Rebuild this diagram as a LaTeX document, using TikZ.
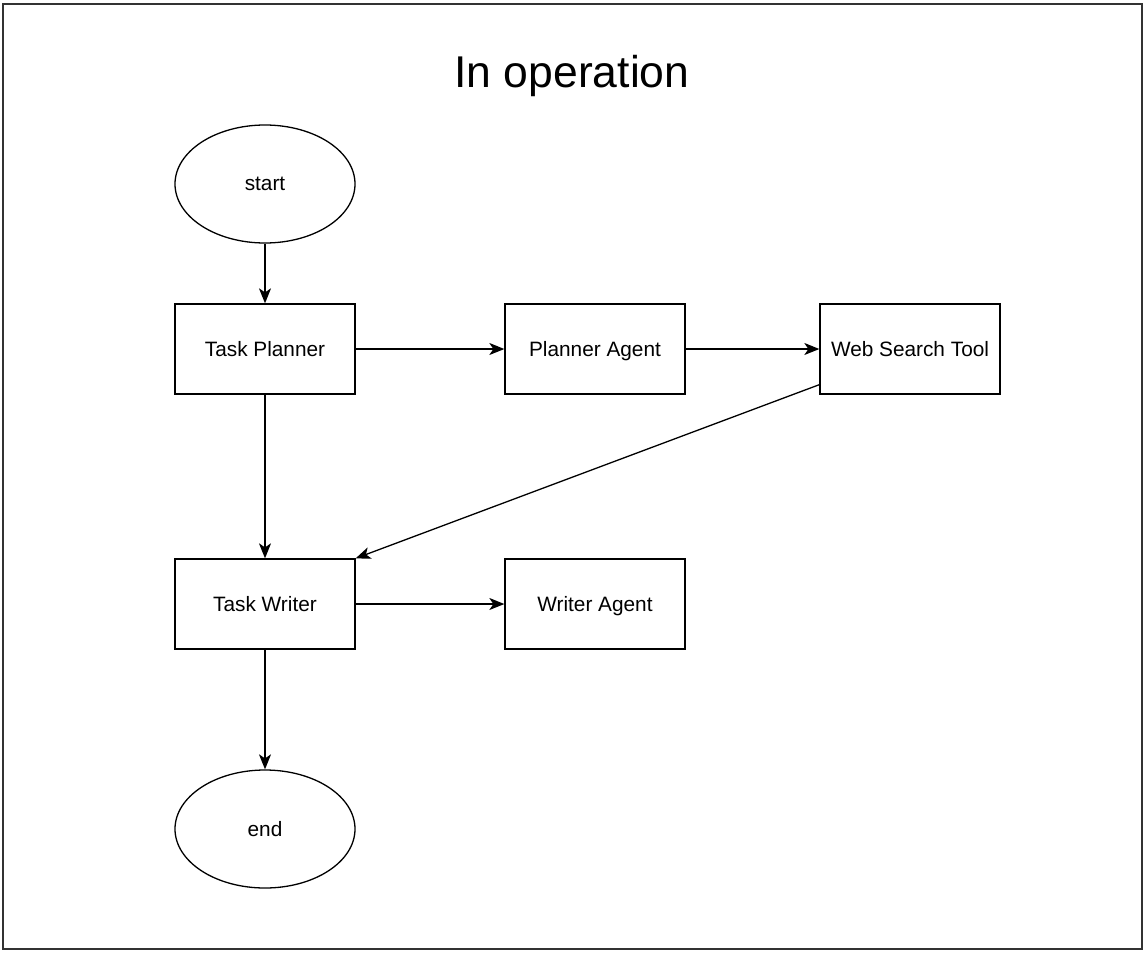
\documentclass[tikz,border=0pt]{standalone}
\usepackage{fontspec}
\setmainfont{Liberation Sans}
\usepackage{tikz}
\usetikzlibrary{arrows.meta,calc,shapes.geometric}

\begin{document}
\begin{tikzpicture}[x=1pt,y=-1pt,
  box/.style={draw,line width=1.3pt,minimum width=180pt,minimum height=90pt,inner sep=0pt,text height=18pt,text depth=4pt,font=\fontsize{20.8}{24}\selectfont},
  term/.style={draw,ellipse,line width=1.3pt,minimum width=180pt,minimum height=118pt,inner sep=0pt,font=\fontsize{20.8}{24}\selectfont},
  flow/.style={line width=1.3pt,-{Stealth[length=15pt,width=12pt,inset=4pt]}}]
\useasboundingbox (0,0) rectangle (1148,956);
\draw[line width=2pt,draw=black!80] (3,4) rectangle (1142,949);
\node (title) at (572,76) {\fontsize{44.5}{52}\selectfont In operation};
\node[term] (start) at (265,184) {start};
\node[box] (taskplanner) at (265,349) {Task Planner};
\node[box] (planneragent) at (595,349) {Planner Agent};
\node[box] (websearch) at (910,349) {Web Search Tool};
\node[box] (taskwriter) at (265,604) {Task Writer};
\node[box] (writeragent) at (595,604) {Writer Agent};
\node[term] (end) at (265,829) {end};
\coordinate (wsout) at ($(websearch.south west)+(0,-10)$);
\draw[flow] (start) to (taskplanner);
\draw[flow] (taskplanner) to (planneragent);
\draw[flow] (planneragent) to (websearch);
\draw[flow] (wsout) to (taskwriter.north east);
\draw[flow] (taskplanner) to (taskwriter);
\draw[flow] (taskwriter) to (writeragent);
\draw[flow] (taskwriter) to (end);
\end{tikzpicture}
\end{document}
